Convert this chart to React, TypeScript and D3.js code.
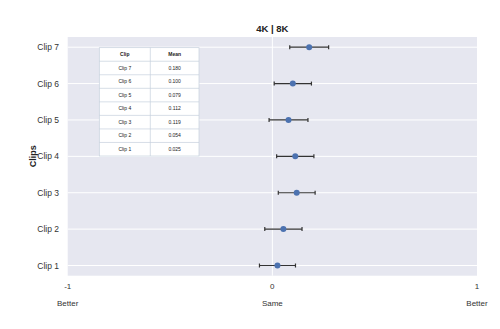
import React from "react";
import * as d3 from "d3";

const clips = ["Clip 7", "Clip 6", "Clip 5", "Clip 4", "Clip 3", "Clip 2", "Clip 1"];
const means = [0.18, 0.1, 0.079, 0.112, 0.119, 0.054, 0.025];
const errors = [0.095, 0.091, 0.095, 0.091, 0.09, 0.091, 0.088];
const xTicks = [-1, 0, 1];
const xTickNames = ["Better", "Same", "Better"];
const tableHeader = ["Clip", "Mean"];
const tableMeans = ["0.180", "0.100", "0.079", "0.112", "0.119", "0.054", "0.025"];

export default function App() {
  const W = 500, H = 329;
  const left = 67.7, right = 477, top = 37, bottom = 275.7;
  const x = d3.scaleLinear().domain([-1, 1]).range([left, right]);
  const y = d3.scalePoint<string>().domain(clips).range([top, bottom]).padding(0.28);
  const font = "'Liberation Sans', Arial, sans-serif";
  const tX0 = 99.3, tX1 = 150.3, tX2 = 199, tY0 = 47.7, tY1 = 156;
  const rowH = (tY1 - tY0) / 8;
  return (
    <svg width={W} height={H} style={{ position: "absolute", left: 0, top: 0 }}>
      <rect x={0} y={0} width={W} height={H} fill="#fff" />
      <rect x={left} y={top} width={right - left} height={bottom - top} fill="#e6e7f0" />
      {clips.map((c) => (
        <line key={c} x1={left} x2={right} y1={y(c)} y2={y(c)} stroke="#fff" strokeWidth={1} />
      ))}
      <line x1={x(0)} x2={x(0)} y1={top} y2={bottom} stroke="#fff" strokeWidth={1} />
      {/* table */}
      <rect x={tX0} y={tY0} width={tX2 - tX0} height={tY1 - tY0} fill="#fff" stroke="#c5d0dc" strokeWidth={0.7} />
      <line x1={tX1} x2={tX1} y1={tY0} y2={tY1} stroke="#c5d0dc" strokeWidth={0.7} />
      {d3.range(1, 8).map((i) => (
        <line key={i} x1={tX0} x2={tX2} y1={tY0 + i * rowH} y2={tY0 + i * rowH} stroke="#c5d0dc" strokeWidth={0.7} />
      ))}
      {tableHeader.map((h, i) => (
        <text key={h} x={i === 0 ? (tX0 + tX1) / 2 : (tX1 + tX2) / 2} y={tY0 + rowH / 2 + 1.8} fontSize={5} fontWeight="bold" textAnchor="middle" fontFamily={font} fill="#222">{h}</text>
      ))}
      {clips.map((c, i) => (
        <g key={c}>
          <text x={(tX0 + tX1) / 2} y={tY0 + (i + 1.5) * rowH + 1.8} fontSize={5} textAnchor="middle" fontFamily={font} fill="#222">{c}</text>
          <text x={(tX1 + tX2) / 2} y={tY0 + (i + 1.5) * rowH + 1.8} fontSize={5} textAnchor="middle" fontFamily={font} fill="#222">{tableMeans[i]}</text>
        </g>
      ))}
      {/* error bars and points */}
      {clips.map((c, i) => {
        const cy = y(c)!;
        const x0 = x(means[i] - errors[i]);
        const x1 = x(means[i] + errors[i]);
        return (
          <g key={c}>
            <line x1={x0} x2={x1} y1={cy} y2={cy} stroke="#333" strokeWidth={1.2} />
            <line x1={x0} x2={x0} y1={cy - 2} y2={cy + 2} stroke="#333" strokeWidth={1.2} />
            <line x1={x1} x2={x1} y1={cy - 2} y2={cy + 2} stroke="#333" strokeWidth={1.2} />
            <circle cx={x(means[i])} cy={cy} r={3} fill="#4c72b0" />
          </g>
        );
      })}
      {/* y tick labels */}
      {clips.map((c) => (
        <text key={c} x={59} y={y(c)! + 3} fontSize={8.5} textAnchor="end" fontFamily={font} fill="#333">{c}</text>
      ))}
      <text transform={`translate(36,${(top + bottom) / 2}) rotate(-90)`} fontSize={9} fontWeight="bold" textAnchor="middle" fontFamily={font} fill="#222">Clips</text>
      {/* x ticks */}
      {xTicks.map((t, i) => (
        <g key={i}>
          <text x={x(t)} y={289} fontSize={8} textAnchor="middle" fontFamily={font} fill="#333">{t}</text>
          <text x={x(t)} y={306} fontSize={8} textAnchor="middle" fontFamily={font} fill="#333">{xTickNames[i]}</text>
        </g>
      ))}
      <text x={x(0)} y={32} fontSize={9.5} fontWeight="bold" textAnchor="middle" fontFamily={font} fill="#222">4K | 8K</text>
    </svg>
  );
}
